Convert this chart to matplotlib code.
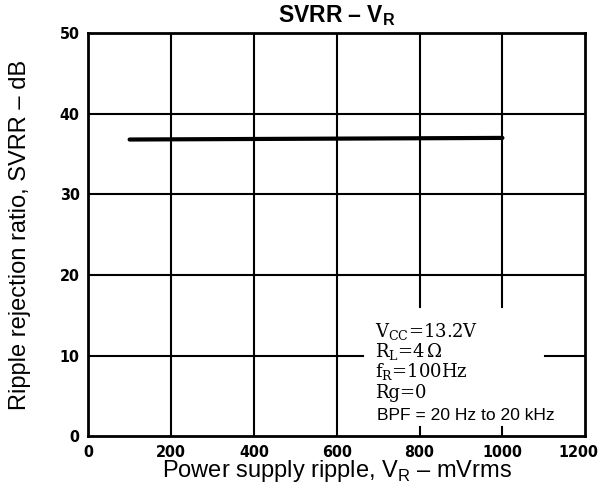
import matplotlib.pyplot as plt
from matplotlib.transforms import ScaledTranslation

plt.rcParams["font.family"] = ["Liberation Sans", "DejaVu Sans"]
plt.rcParams["mathtext.fontset"] = "custom"
plt.rcParams["mathtext.rm"] = "Liberation Sans"
plt.rcParams["mathtext.bf"] = "Liberation Sans:bold"

# -----------------------------
# Daten
# -----------------------------
ripple_mv = [100, 1000]
svrr_db = [36.8, 37.0]

x_ticks = [0, 200, 400, 600, 800, 1000, 1200]
y_ticks = [0, 10, 20, 30, 40, 50]

# -----------------------------
# Plot
# -----------------------------
fig = plt.figure(figsize=(6.04, 4.94), dpi=100)
ax = fig.add_axes([0.146, 0.117, 0.823, 0.816])

ax.set_xlim(0, 1200)
ax.set_ylim(0, 50)

# Gitter (teilweise durch Textbox unterbrochen)
for xv in [200, 400, 600]:
    ax.plot([xv, xv], [0, 50], color="black", lw=1.5)
for xv in [800, 1000]:
    ax.plot([xv, xv], [16.0, 50], color="black", lw=1.5)
    ax.plot([xv, xv], [0, 1.2], color="black", lw=1.5)
for yv in [20, 30, 40]:
    ax.plot([0, 1200], [yv, yv], color="black", lw=1.5)
ax.plot([0, 664], [10, 10], color="black", lw=1.5)
ax.plot([1103, 1200], [10, 10], color="black", lw=1.5)

ax.plot(ripple_mv, svrr_db, color="black", lw=3, solid_capstyle="round")

for s in ax.spines.values():
    s.set_linewidth(2)

ax.set_xticks(x_ticks)
ax.set_yticks(y_ticks)
ax.tick_params(length=0, pad=6)
for lab in ax.get_xticklabels() + ax.get_yticklabels():
    lab.set_family("DejaVu Sans")
    lab.set_fontstretch("condensed")
    lab.set_fontweight("bold")
    lab.set_fontsize(11.5)

# letzte x-Beschriftung etwas nach links, damit sie nicht abgeschnitten wird
last = ax.get_xticklabels()[-1]
last.set_transform(last.get_transform() + ScaledTranslation(-5 / 72, 0, fig.dpi_scale_trans))

ax.set_title(r"SVRR – V$_\mathbf{R}$", fontsize=16.5, fontweight="bold", pad=8)
ax.set_xlabel(r"Power supply ripple, V$_\mathrm{R}$ – mVrms", fontsize=17, labelpad=-1)
ax.set_ylabel("Ripple rejection ratio, SVRR – dB", fontsize=17, labelpad=21)

# Bedingungen
serif = dict(family="DejaVu Serif", fontsize=13, math_fontfamily="dejavuserif")
ax.text(693, 12.3, r"V$_\mathrm{CC}$=13.2V", **serif)
ax.text(693, 9.8, r"R$_\mathrm{L}$=4$\,\Omega$", **serif)
ax.text(693, 7.3, r"f$_\mathrm{R}$=100Hz", **serif)
ax.text(693, 4.8, "Rg=0", **serif)
ax.text(697, 2.0, "BPF = 20 Hz to 20 kHz", fontsize=12.6)

fig.savefig("out.png", dpi=100)
